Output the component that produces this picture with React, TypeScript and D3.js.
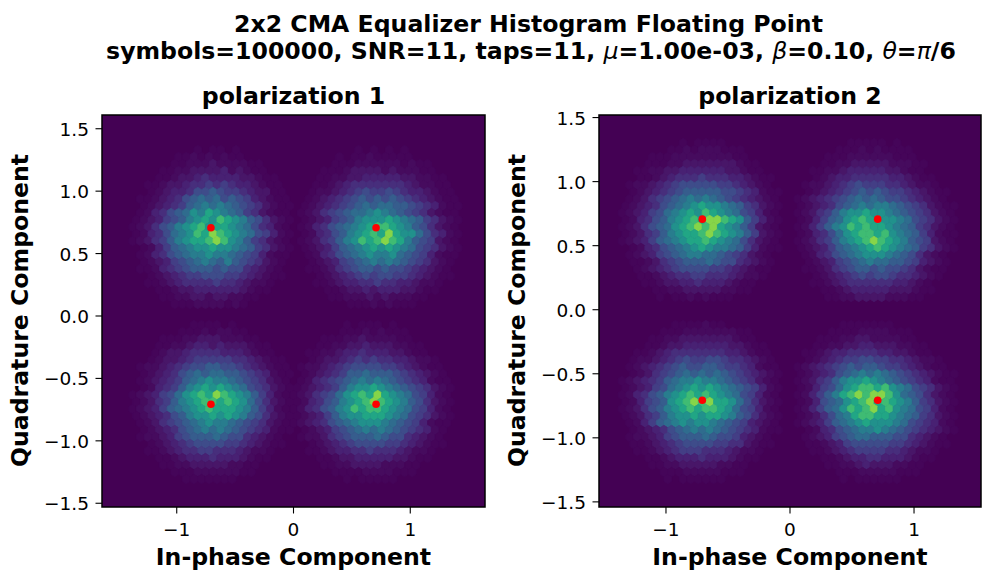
import React from 'react'
import * as d3 from 'd3'

const width = 982
const height = 572

// hexbin counts per cluster, one hex digit per cell.
// 23 rows x 21 cells, the middle cell sits on the ideal symbol
const p1TopLeft = ["000000001011010000000","000000112121211000000","000001122232222110000","000011223333423211000","000112334544443321100","001123345565654432110","001234457787665433110","011234578989787643211","012345689a9a987653211","01245789bacba98653211","1234678abcbdcba875321","123578abcdbccba975421","124579abdcedcba976421","123568abccdedba865321","0124689abbcbba9865321","01245789aabaa98764211","012346789a98a87653210","011245678887877543210","001234566777665432110","001123455556554322100","000112334444443211000","000011223323322110000","000001112222121000000"]
const p1TopRight = ["000000010101010000000","000001011211111000000","000011122222212110000","000111233332322211000","001122334444433221100","001123455555554322110","012234567667654432110","012345678787876543211","123456789899887654211","123567899aba987653211","1234678abbbcba9865321","1245789abcddcba875321","124578abcdcecbb975421","123568abdcdedca876321","1234689abcbcba9765321","01245789abaab98764211","012346789a9a987653210","011235678878776543210","001234567677665432110","001123445565544322100","000112334344433211000","000011222323222110000","000000111212111000000"]
const p1BottomLeft = ["000000001111010000000","000000111212211000000","000011122333222110000","000112234434333211000","000123345555444321100","001233456666655432110","012234567788776543211","012345789899887654211","012345689abaa98765321","0124568abcbcba9765321","1234679bcdcedcba86421","123568abcddcdcb975321","1234689abcdcccba86421","1234578abbcbcba875321","012356789abaa98765321","012345789a9a987654211","012234678889877543210","001234567777665432110","001123455665554322100","000112344454443211000","000011223333322110000","000001112222221100000","000000011111110000000"]
const p1BottomRight = ["000000010111010000000","000000111212111000000","000011122322221100000","000112233433322110000","001122344544433211000","001233456565544322100","012234567777665432110","012345688988876543210","012456789a9a987654211","1234568abbcba98765321","1235679bcdcecba976421","124578abcdedcba875321","124578abdcddcba976421","123468abbcccba9765321","12345789abbba98764211","012346789a9a987654210","012235678889877543210","001234567777665432110","001123445565554322100","000112334444433211000","000011223333222110000","000001111222211100000","000000010111110000000"]
const p2TopLeft = ["000000001011110000000","000000112122211100000","000011122222222110000","000111223333333211000","001122334444443321100","001123455565554432110","012234567777766543210","012345678888877654211","012356789a9a987654321","12345789abcbba9865321","1234679abcbdcba976421","124578abcdceedcb86421","1235789bcdedecba86321","123568abccdedcba86321","1234689abccdcba975321","01245789abcbaa9864211","012346789aa9987653210","011235678889877543210","001234567777665432110","001123455665554322100","000112334454443211000","000011223333322110000","000001011212111000000"]
const p2TopRight = ["000000011111010000000","000001112121111000000","000011122222211100000","000112233333222110000","001122344444332110000","001234455555443211000","012234567666554322100","012345678787665432110","123456789898776543210","12345789a9aa987653211","123568abbcbba98765321","124689bcdccbba9765321","12468abdcdccba9865321","124579bcddcdba9864211","123568abcdedcba876321","1234689abcdcba9865321","01245789abbba98753210","012346789a99887643210","011235678878776532110","001234567677655432100","001123455555544321000","000112344444333211000","000011223333222110000"]
const p2BottomLeft = ["000000011112110000000","000001112222222110000","000011223333333211000","000112334444443321100","001123455555554432110","012234567667765543210","012345678778876654211","012356789898987654321","12345689aabaa98765321","1234679abcbcba9876421","124578abcdcdcba976421","124678bcdedeccb975321","123578abcdcddcb976421","123568abbcbccba875321","0124689ababba98764321","012345789a9a987654211","012234678889877643210","011234567777665532110","001123456665554322100","000112344454443211000","000011223333322110000","000001112222211100000","000000101111110000000"]
const p2BottomRight = ["000000111111100000000","000011112222111000000","000111223322221100000","001122334433322110000","011234455554433211000","012345667766554322100","123456787887665432110","12345789a9a9876543211","123568abbcba987654211","124679bcddcdba9765321","12468acdedeedb9875321","124789bcdecdcba865321","124689bdcdecdba976421","123579acddccba9865321","1234689abcbbba9765421","01245789aaba987654321","012346789988877543210","011234677777665432110","001123456666554322100","000112344554443211000","000011223433322110000","000001112222211100000","000000101111110000000"]

// what each digit stands for on the colour bar
const levels = [0, 0.012, 0.03, 0.055, 0.09, 0.13, 0.18, 0.23, 0.29, 0.35, 0.42, 0.5, 0.59, 0.69, 0.82, 0.92]

const symbol = Math.SQRT1_2
const yTicks = [-1.5, -1, -0.5, 0, 0.5, 1, 1.5]
const xTicks = [-1, 0, 1]

const gridX = 50
const gridY = 28

const panels = [
  {
    title: 'polarization 1',
    left: 102, right: 485, top: 115, bottom: 507,
    xDomain: [-1.64, 1.64], yDomain: [-1.53, 1.61],
    clusters: [
      { sx: -1, sy: 1, rows: p1TopLeft },
      { sx: 1, sy: 1, rows: p1TopRight },
      { sx: -1, sy: -1, rows: p1BottomLeft },
      { sx: 1, sy: -1, rows: p1BottomRight },
    ],
  },
  {
    title: 'polarization 2',
    left: 599, right: 981, top: 115, bottom: 507,
    xDomain: [-1.54, 1.54], yDomain: [-1.54, 1.52],
    clusters: [
      { sx: -1, sy: 1, rows: p2TopLeft },
      { sx: 1, sy: 1, rows: p2TopRight },
      { sx: -1, sy: -1, rows: p2BottomLeft },
      { sx: 1, sy: -1, rows: p2BottomRight },
    ],
  },
]

const color = d3.scaleSequential(d3.interpolateViridis).domain([0, 1])
const fmt = (v: number, digits: number) => v.toFixed(digits).replace('-', '\u2212')

function Panel({ p, index }: { p: any; index: number }) {
  const x = d3.scaleLinear().domain(p.xDomain).range([p.left, p.right])
  const y = d3.scaleLinear().domain(p.yDomain).range([p.bottom, p.top])
  const stepX = (p.xDomain[1] - p.xDomain[0]) / gridX
  const stepY = (p.yDomain[1] - p.yDomain[0]) / gridY

  // same hexagon matplotlib's hexbin uses
  const hexOffsets = [[0, 1], [0.5, 0.5], [0.5, -0.5], [0, -1], [-0.5, -0.5], [-0.5, 0.5]]
  const hexLine = d3.line<number[]>().x(d => d[0]).y(d => d[1]).curve(d3.curveLinearClosed)

  const cells: { key: string; d: string; fill: string }[] = []
  p.clusters.forEach((c: any, ci: number) => {
    const rowC = Math.round((c.sy * symbol - p.yDomain[0]) / (stepY / 2))
    const colC = Math.round((c.sx * symbol - p.xDomain[0]) / stepX - (rowC % 2 ? 0.5 : 0))
    const midRow = Math.floor(c.rows.length / 2)
    c.rows.forEach((row: string, k: number) => {
      const j = rowC + midRow - k
      const midCol = Math.floor(row.length / 2)
      row.split('').forEach((ch, m) => {
        const v = parseInt(ch, 16)
        if (!v) return
        const cx = p.xDomain[0] + (colC + m - midCol + (j % 2 ? 0.5 : 0)) * stepX
        const cy = p.yDomain[0] + (j * stepY) / 2
        const pts = hexOffsets.map(o => [x(cx + o[0] * stepX), y(cy + (o[1] * stepY) / 3)])
        cells.push({ key: `${ci}-${k}-${m}`, d: hexLine(pts) as string, fill: color(levels[v]) })
      })
    })
  })

  const midX = (p.left + p.right) / 2
  const clip = `clip-${index}`

  return (
    <g>
      <clipPath id={clip}>
        <rect x={p.left} y={p.top} width={p.right - p.left} height={p.bottom - p.top} />
      </clipPath>
      <rect x={p.left} y={p.top} width={p.right - p.left} height={p.bottom - p.top} fill={color(0)} />
      <g clipPath={`url(#${clip})`}>
        {cells.map(c => (
          <path key={c.key} d={c.d} fill={c.fill} stroke={c.fill} strokeWidth={0.8} />
        ))}
        {p.clusters.map((c: any, i: number) => (
          <circle key={i} cx={x(c.sx * symbol)} cy={y(c.sy * symbol)} r={3.8} fill="#ff0000" />
        ))}
      </g>
      <rect x={p.left} y={p.top} width={p.right - p.left} height={p.bottom - p.top} fill="none" stroke="#000" strokeWidth={1.5} />
      {xTicks.map(t => (
        <g key={t}>
          <line x1={x(t)} x2={x(t)} y1={p.bottom} y2={p.bottom + 6.5} stroke="#000" strokeWidth={1.1} />
          <text x={x(t)} y={p.bottom + 29} textAnchor="middle" fontSize={18.5}>{fmt(t, 0)}</text>
        </g>
      ))}
      {yTicks.map(t => (
        <g key={t}>
          <line x1={p.left - 6.5} x2={p.left} y1={y(t)} y2={y(t)} stroke="#000" strokeWidth={1.1} />
          <text x={p.left - 13} y={y(t) + 7} textAnchor="end" fontSize={18.5}>{fmt(t, 1)}</text>
        </g>
      ))}
      <text x={midX} y={p.top - 11} textAnchor="middle" fontSize={23.6} fontWeight="bold">{p.title}</text>
      <text x={midX} y={p.bottom + 58} textAnchor="middle" fontSize={23.6} fontWeight="bold">In-phase Component</text>
      <text transform={`translate(${p.left - 74.5},310.5) rotate(-90)`} textAnchor="middle" fontSize={23.6} fontWeight="bold">Quadrature Component</text>
    </g>
  )
}

function Sym({ c }: { c: string }) {
  return <tspan fontStyle="italic" fontWeight="normal">{c}</tspan>
}

export default function App() {
  return (
    <svg width={width} height={height} style={{ position: 'absolute', left: 0, top: 0, background: '#fff' }} fontFamily="'DejaVu Sans'">
      <text x={528.5} y={32} textAnchor="middle" fontSize={23.6} fontWeight="bold">2x2 CMA Equalizer Histogram Floating Point</text>
      <text x={531} y={59} textAnchor="middle" fontSize={23.6} fontWeight="bold">
        symbols=100000, SNR=11, taps=11, <Sym c="μ" />=1.00e-03, <Sym c="β" />=0.10, <Sym c="θ" />=<Sym c="π" />/6
      </text>
      {panels.map((p, i) => <Panel key={i} p={p} index={i} />)}
    </svg>
  )
}
